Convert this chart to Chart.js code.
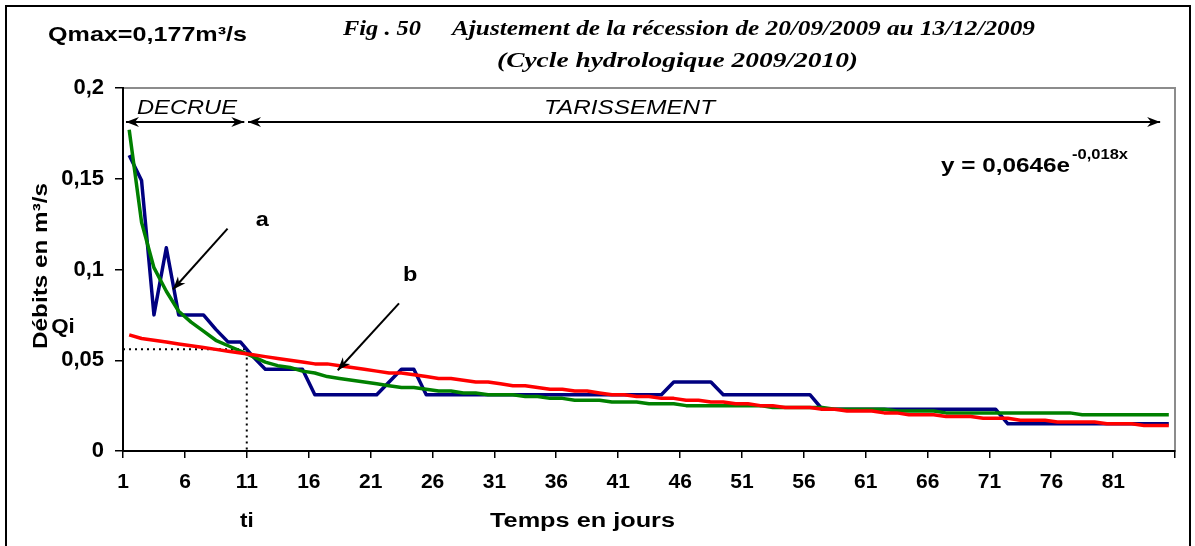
<!DOCTYPE html>
<html>
<head>
<meta charset="utf-8">
<script src="https://cdn.jsdelivr.net/npm/chart.js@4.4.1/dist/chart.umd.min.js"></script>
<style>
  html, body { margin: 0; padding: 0; background: #fff; }
  #cadre { width: 1195px; height: 546px; }
</style>
</head>
<body>
<div id="cadre"><canvas id="myChart" width="1195" height="546"></canvas></div>
<script>
// Jours (catégories de l'axe X)
const jours = ['1','2','3','4','5','6','7','8','9','10','11','12','13','14','15','16','17','18','19','20',
  '21','22','23','24','25','26','27','28','29','30','31','32','33','34','35','36','37','38','39','40',
  '41','42','43','44','45','46','47','48','49','50','51','52','53','54','55','56','57','58','59','60',
  '61','62','63','64','65','66','67','68','69','70','71','72','73','74','75','76','77','78','79','80',
  '81','82','83','84','85'];

// Etiquettes affichées sur l'axe X (une sur cinq)
const etiquettesX = ['1','6','11','16','21','26','31','36','41','46','51','56','61','66','71','76','81'];

// Graduations de l'axe Y (m3/s)
const graduationsY = [0, 0.05, 0.1, 0.15, 0.2];

// Débits observés (bleu)
const debitsObserves = [0.163, 0.149, 0.075, 0.112, 0.075, 0.075, 0.075, 0.067, 0.060, 0.060,
  0.052, 0.045, 0.045, 0.045, 0.045, 0.031, 0.031, 0.031, 0.031, 0.031,
  0.031, 0.038, 0.045, 0.045, 0.031, 0.031, 0.031, 0.031, 0.031, 0.031,
  0.031, 0.031, 0.031, 0.031, 0.031, 0.031, 0.031, 0.031, 0.031, 0.031,
  0.031, 0.031, 0.031, 0.031, 0.038, 0.038, 0.038, 0.038, 0.031, 0.031,
  0.031, 0.031, 0.031, 0.031, 0.031, 0.031, 0.023, 0.023, 0.023, 0.023,
  0.023, 0.023, 0.023, 0.023, 0.023, 0.023, 0.023, 0.023, 0.023, 0.023,
  0.023, 0.015, 0.015, 0.015, 0.015, 0.015, 0.015, 0.015, 0.015, 0.015,
  0.015, 0.015, 0.015, 0.015, 0.015];

// Courbe d'ajustement de la décrue (vert)
const debitsAjustes = [0.177, 0.126, 0.101, 0.088, 0.077, 0.071, 0.066, 0.061, 0.058, 0.055,
  0.052, 0.049, 0.047, 0.046, 0.044, 0.043, 0.041, 0.040, 0.039, 0.038,
  0.037, 0.036, 0.035, 0.035, 0.034, 0.033, 0.033, 0.032, 0.032, 0.031,
  0.031, 0.031, 0.030, 0.030, 0.029, 0.029, 0.028, 0.028, 0.028, 0.027,
  0.027, 0.027, 0.026, 0.026, 0.026, 0.025, 0.025, 0.025, 0.025, 0.025,
  0.025, 0.025, 0.024, 0.024, 0.024, 0.024, 0.024, 0.023, 0.023, 0.023,
  0.023, 0.023, 0.022, 0.022, 0.022, 0.022, 0.021, 0.021, 0.021, 0.021,
  0.021, 0.021, 0.021, 0.021, 0.021, 0.021, 0.021, 0.020, 0.020, 0.020,
  0.020, 0.020, 0.020, 0.020, 0.020];

// Courbe de tarissement y = 0,0646e^-0,018x (rouge)
const debitsTarissement = [0.064, 0.062, 0.061, 0.060, 0.059, 0.058, 0.057, 0.056, 0.055, 0.054,
  0.053, 0.052, 0.051, 0.050, 0.049, 0.048, 0.048, 0.047, 0.046, 0.045,
  0.044, 0.043, 0.043, 0.042, 0.041, 0.040, 0.040, 0.039, 0.038, 0.038,
  0.037, 0.036, 0.036, 0.035, 0.034, 0.034, 0.033, 0.033, 0.032, 0.031,
  0.031, 0.030, 0.030, 0.029, 0.029, 0.028, 0.028, 0.027, 0.027, 0.026,
  0.026, 0.025, 0.025, 0.024, 0.024, 0.024, 0.023, 0.023, 0.022, 0.022,
  0.022, 0.021, 0.021, 0.020, 0.020, 0.020, 0.019, 0.019, 0.019, 0.018,
  0.018, 0.018, 0.017, 0.017, 0.017, 0.016, 0.016, 0.016, 0.016, 0.015,
  0.015, 0.015, 0.014, 0.014, 0.014];

const Qi = 0.056; // débit initial du tarissement

const policeArial = 'Arial, "Liberation Sans", sans-serif';
const policeTimes = '"Times New Roman", "Liberation Serif", serif';

/* Texte noir centré verticalement, étiré horizontalement */
function texte(c, str, x, y, font, align, etire) {
  c.save();
  c.font = font;
  c.textAlign = align || 'left';
  c.textBaseline = 'middle';
  c.fillStyle = '#000';
  c.translate(x, y);
  c.scale(etire || 1, 1);
  c.fillText(str, 0, 0);
  c.restore();
}

/* Texte ajusté à une largeur donnée (à partir de x) */
function texteLargeur(c, str, x, y, font, largeur) {
  c.save();
  c.font = font;
  let w = c.measureText(str).width;
  c.restore();
  texte(c, str, x, y, font, 'left', largeur / w);
}

/* Pointe de flèche pleine en (x, y) orientée selon l'angle */
function pointe(c, x, y, angle) {
  c.save();
  c.translate(x, y);
  c.rotate(angle);
  c.beginPath();
  c.moveTo(0, 0);
  c.lineTo(-13, -5);
  c.lineTo(-9, 0);
  c.lineTo(-13, 5);
  c.closePath();
  c.fill();
  c.restore();
}

function fleche(c, x1, y1, x2, y2, double) {
  c.save();
  c.strokeStyle = '#000';
  c.fillStyle = '#000';
  c.lineWidth = 2;
  c.beginPath();
  c.moveTo(x1, y1);
  c.lineTo(x2, y2);
  c.stroke();
  let ang = Math.atan2(y2 - y1, x2 - x1);
  pointe(c, x2, y2, ang);
  if (double) pointe(c, x1, y1, ang + Math.PI);
  c.restore();
}

// Plugin : cadres, textes et annotations
const decor = {
  id: 'decor',
  beforeDraw(chart) {
    const c = chart.ctx, a = chart.chartArea;
    c.save();
    c.fillStyle = '#fff';
    c.fillRect(0, 0, chart.width, chart.height);
    // cadre extérieur
    c.strokeStyle = '#000';
    c.lineWidth = 2;
    c.strokeRect(6, 6, 1184, 600);
    // bord de la zone de tracé
    c.strokeStyle = '#8c8c8c';
    c.strokeRect(a.left, a.top, a.right - a.left, a.bottom - a.top);
    c.restore();
  },
  beforeDatasetsDraw(chart) {
    const c = chart.ctx, xs = chart.scales.x, ys = chart.scales.y;
    // pointillés Qi / ti
    let xTi = xs.getPixelForValue(9.5);
    let yQi = ys.getPixelForValue(Qi);
    c.save();
    c.strokeStyle = '#000';
    c.lineWidth = 2;
    c.setLineDash([2, 4]);
    c.beginPath();
    c.moveTo(chart.chartArea.left, yQi);
    c.lineTo(xTi, yQi);
    c.lineTo(xTi, chart.chartArea.bottom);
    c.stroke();
    c.restore();
  },
  afterDraw(chart) {
    const c = chart.ctx, xs = chart.scales.x, ys = chart.scales.y;
    const px = i => xs.getPixelForValue(i);
    const py = v => ys.getPixelForValue(v);

    // Titres
    texteLargeur(c, 'Qmax=0,177m\u00b3/s', 48, 35, 'bold 21px ' + policeArial, 199);
    texteLargeur(c, 'Fig . 50', 343, 29, 'bold italic 22px ' + policeTimes, 78);
    texteLargeur(c, 'Ajustement de la récession de 20/09/2009 au 13/12/2009', 452, 29, 'bold italic 22px ' + policeTimes, 583);
    texteLargeur(c, '(Cycle hydrologique 2009/2010)', 497, 61, 'bold italic 22px ' + policeTimes, 361);

    // Titres des axes
    c.save();
    c.translate(41, 266);
    c.rotate(-Math.PI / 2);
    texteLargeur(c, 'Débits en m\u00b3/s', -83, 0, 'bold 20px ' + policeArial, 166);
    c.restore();
    texteLargeur(c, 'Temps en jours', 490, 521, 'bold 20px ' + policeArial, 185);
    texte(c, 'ti', px(9.5), 521, 'bold 20px ' + policeArial, 'center', 1.12);
    texte(c, 'Qi', 63, 327, 'bold 20px ' + policeArial, 'center', 1.12);

    // Phases
    let yFl = py(0.1813);
    fleche(c, px(-0.26), yFl, px(9.3), yFl, true);
    fleche(c, px(9.6), yFl, px(83.3), yFl, true);
    texteLargeur(c, 'DECRUE', 137, py(0.189), 'italic 20px ' + policeArial, 100);
    texteLargeur(c, 'TARISSEMENT', 544, py(0.189), 'italic 20px ' + policeArial, 171);

    // Equation de la courbe de tarissement
    texteLargeur(c, 'y = 0,0646e', 941, py(0.157), 'bold 20px ' + policeArial, 129);
    texteLargeur(c, '-0,018x', 1072, py(0.163), 'bold 14px ' + policeArial, 56);

    // Flèches a et b
    fleche(c, px(7.95), py(0.1225), px(3.54), py(0.089), false);
    texte(c, 'a', px(10.75), py(0.127), 'bold 21px ' + policeArial, 'center', 1.12);
    fleche(c, px(21.8), py(0.0813), px(16.85), py(0.0445), false);
    texte(c, 'b', px(22.7), py(0.0967), 'bold 21px ' + policeArial, 'center', 1.12);
  }
};

const serie = (label, data, color) => ({
  label: label,
  data: data,
  borderColor: color,
  backgroundColor: color,
  borderWidth: 3.5,
  pointRadius: 0,
  tension: 0,
  fill: false,
  borderJoinStyle: 'round'
});

const myChart = new Chart(document.getElementById('myChart'), {
  type: 'line',
  data: {
    labels: jours,
    datasets: [
      serie('Tarissement', debitsTarissement, '#ff0000'),
      serie('Ajustement', debitsAjustes, '#008000'),
      serie('Débits observés', debitsObserves, '#000080')
    ]
  },
  options: {
    responsive: false,
    animation: false,
    layout: { padding: { left: 0, right: 20, top: 88, bottom: 0 } },
    plugins: {
      legend: { display: false },
      tooltip: { enabled: false }
    },
    scales: {
      x: {
        offset: true,
        grid: {
          offset: true,
          drawOnChartArea: false,
          tickLength: 7,
          lineWidth: 1.5,
          color: ctx => (ctx.index === undefined || ctx.index % 5 === 0) ? '#000' : 'rgba(0,0,0,0)'
        },
        border: { color: '#000', width: 2 },
        ticks: {
          autoSkip: false,
          maxRotation: 0,
          color: '#000',
          padding: 12,
          labelOffset: -6,
          font: { family: policeArial, size: 21, weight: 'bold' },
          callback: function (val) {
            let l = this.getLabelForValue(val);
            return etiquettesX.includes(l) ? l : '';
          }
        },
        afterFit: s => { s.height = 95; }
      },
      y: {
        min: 0,
        max: 0.2,
        afterBuildTicks: s => { s.ticks = graduationsY.map(v => ({ value: v })); },
        grid: { drawOnChartArea: false, tickLength: 8, lineWidth: 1.5, color: '#000' },
        border: { color: '#000', width: 2 },
        ticks: {
          color: '#000',
          padding: 11,
          font: { family: policeArial, size: 22, weight: 'bold' },
          callback: v => String(v).replace('.', ',')
        },
        afterFit: s => { s.width = 123; }
      }
    }
  },
  plugins: [decor]
});
</script>
</body>
</html>
